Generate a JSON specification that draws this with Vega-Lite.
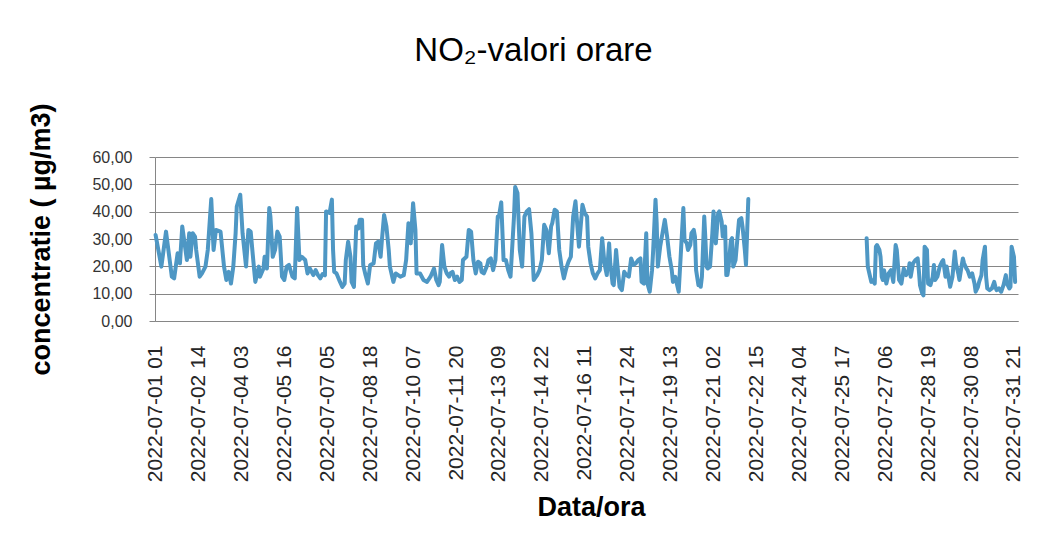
{
"$schema": "https://vega.github.io/schema/vega-lite/v6.json",
"width": 863, "height": 164,
"autosize": {"type": "none"},
"padding": {"left": 155, "top": 157, "right": 41, "bottom": 218},
"background": "white",
"title": {"text": "NO₂-valori orare", "font": "Liberation Sans", "fontSize": 33, "fontWeight": "normal", "color": "black", "anchor": "middle", "frame": "group", "dx": -53, "offset": 9, "baseline": "alphabetic"},
"data": {"values": [
{"ora":1,"no2":31.5,"tronson":1},{"ora":6,"no2":19.9,"tronson":1},{"ora":10,"no2":32.7,"tronson":1},{"ora":15,"no2":16.2,"tronson":1},{"ora":17,"no2":15.6,"tronson":1},{"ora":20,"no2":24.8,"tronson":1},{"ora":22,"no2":21.1,"tronson":1},{"ora":24,"no2":34.6,"tronson":1},{"ora":28,"no2":22.3,"tronson":1},{"ora":30,"no2":32.1,"tronson":1},{"ora":31,"no2":23.5,"tronson":1},{"ora":33,"no2":32.1,"tronson":1},{"ora":35,"no2":30.9,"tronson":1},{"ora":36,"no2":26.0,"tronson":1},{"ora":39,"no2":16.2,"tronson":1},{"ora":41,"no2":17.4,"tronson":1},{"ora":44,"no2":19.9,"tronson":1},{"ora":46,"no2":26.0,"tronson":1},{"ora":47,"no2":32.1,"tronson":1},{"ora":49,"no2":44.6,"tronson":1},{"ora":51,"no2":26.0,"tronson":1},{"ora":53,"no2":33.3,"tronson":1},{"ora":57,"no2":32.7,"tronson":1},{"ora":60,"no2":19.9,"tronson":1},{"ora":62,"no2":15.0,"tronson":1},{"ora":64,"no2":18.0,"tronson":1},{"ora":66,"no2":13.7,"tronson":1},{"ora":68,"no2":19.9,"tronson":1},{"ora":70,"no2":32.1,"tronson":1},{"ora":71,"no2":41.9,"tronson":1},{"ora":74,"no2":46.2,"tronson":1},{"ora":76,"no2":32.1,"tronson":1},{"ora":79,"no2":19.9,"tronson":1},{"ora":81,"no2":33.3,"tronson":1},{"ora":83,"no2":32.7,"tronson":1},{"ora":86,"no2":18.6,"tronson":1},{"ora":87,"no2":14.3,"tronson":1},{"ora":90,"no2":19.9,"tronson":1},{"ora":91,"no2":16.2,"tronson":1},{"ora":94,"no2":19.2,"tronson":1},{"ora":95,"no2":23.5,"tronson":1},{"ora":97,"no2":19.2,"tronson":1},{"ora":99,"no2":41.3,"tronson":1},{"ora":100,"no2":38.2,"tronson":1},{"ora":102,"no2":23.5,"tronson":1},{"ora":104,"no2":26.0,"tronson":1},{"ora":106,"no2":32.7,"tronson":1},{"ora":108,"no2":30.9,"tronson":1},{"ora":110,"no2":16.2,"tronson":1},{"ora":112,"no2":15.0,"tronson":1},{"ora":114,"no2":19.9,"tronson":1},{"ora":116,"no2":20.5,"tronson":1},{"ora":119,"no2":16.2,"tronson":1},{"ora":121,"no2":15.6,"tronson":1},{"ora":123,"no2":41.3,"tronson":1},{"ora":125,"no2":22.3,"tronson":1},{"ora":127,"no2":23.5,"tronson":1},{"ora":130,"no2":22.3,"tronson":1},{"ora":132,"no2":17.4,"tronson":1},{"ora":134,"no2":19.2,"tronson":1},{"ora":137,"no2":16.8,"tronson":1},{"ora":139,"no2":18.6,"tronson":1},{"ora":141,"no2":16.8,"tronson":1},{"ora":143,"no2":15.6,"tronson":1},{"ora":145,"no2":17.2,"tronson":1},{"ora":147,"no2":16.7,"tronson":1},{"ora":148,"no2":40.1,"tronson":1},{"ora":151,"no2":39.5,"tronson":1},{"ora":153,"no2":44.4,"tronson":1},{"ora":154,"no2":26.0,"tronson":1},{"ora":155,"no2":18.0,"tronson":1},{"ora":157,"no2":17.4,"tronson":1},{"ora":160,"no2":14.3,"tronson":1},{"ora":162,"no2":12.5,"tronson":1},{"ora":164,"no2":13.7,"tronson":1},{"ora":165,"no2":22.3,"tronson":1},{"ora":167,"no2":29.0,"tronson":1},{"ora":169,"no2":23.5,"tronson":1},{"ora":170,"no2":14.3,"tronson":1},{"ora":172,"no2":12.5,"tronson":1},{"ora":174,"no2":34.6,"tronson":1},{"ora":176,"no2":33.9,"tronson":1},{"ora":177,"no2":37.0,"tronson":1},{"ora":179,"no2":37.0,"tronson":1},{"ora":180,"no2":20.5,"tronson":1},{"ora":182,"no2":16.8,"tronson":1},{"ora":184,"no2":13.7,"tronson":1},{"ora":186,"no2":20.5,"tronson":1},{"ora":189,"no2":21.1,"tronson":1},{"ora":191,"no2":28.4,"tronson":1},{"ora":193,"no2":29.0,"tronson":1},{"ora":195,"no2":23.5,"tronson":1},{"ora":196,"no2":29.0,"tronson":1},{"ora":198,"no2":38.8,"tronson":1},{"ora":200,"no2":34.6,"tronson":1},{"ora":202,"no2":26.0,"tronson":1},{"ora":203,"no2":19.9,"tronson":1},{"ora":206,"no2":14.3,"tronson":1},{"ora":208,"no2":17.4,"tronson":1},{"ora":212,"no2":16.2,"tronson":1},{"ora":215,"no2":16.8,"tronson":1},{"ora":217,"no2":22.3,"tronson":1},{"ora":219,"no2":35.8,"tronson":1},{"ora":221,"no2":28.4,"tronson":1},{"ora":223,"no2":43.1,"tronson":1},{"ora":225,"no2":33.3,"tronson":1},{"ora":226,"no2":17.4,"tronson":1},{"ora":229,"no2":17.4,"tronson":1},{"ora":232,"no2":15.0,"tronson":1},{"ora":235,"no2":14.3,"tronson":1},{"ora":238,"no2":16.2,"tronson":1},{"ora":241,"no2":19.2,"tronson":1},{"ora":243,"no2":15.0,"tronson":1},{"ora":245,"no2":13.1,"tronson":1},{"ora":246,"no2":14.3,"tronson":1},{"ora":248,"no2":27.8,"tronson":1},{"ora":250,"no2":19.9,"tronson":1},{"ora":252,"no2":17.4,"tronson":1},{"ora":254,"no2":16.2,"tronson":1},{"ora":255,"no2":17.4,"tronson":1},{"ora":257,"no2":18.0,"tronson":1},{"ora":259,"no2":15.0,"tronson":1},{"ora":261,"no2":16.2,"tronson":1},{"ora":263,"no2":14.3,"tronson":1},{"ora":265,"no2":15.0,"tronson":1},{"ora":266,"no2":22.3,"tronson":1},{"ora":269,"no2":23.5,"tronson":1},{"ora":271,"no2":33.3,"tronson":1},{"ora":273,"no2":32.7,"tronson":1},{"ora":275,"no2":22.3,"tronson":1},{"ora":277,"no2":17.4,"tronson":1},{"ora":279,"no2":21.7,"tronson":1},{"ora":281,"no2":21.1,"tronson":1},{"ora":282,"no2":18.0,"tronson":1},{"ora":284,"no2":17.4,"tronson":1},{"ora":287,"no2":20.5,"tronson":1},{"ora":288,"no2":22.3,"tronson":1},{"ora":290,"no2":22.9,"tronson":1},{"ora":292,"no2":18.6,"tronson":1},{"ora":294,"no2":22.3,"tronson":1},{"ora":296,"no2":38.2,"tronson":1},{"ora":297,"no2":38.2,"tronson":1},{"ora":299,"no2":43.4,"tronson":1},{"ora":301,"no2":22.3,"tronson":1},{"ora":303,"no2":22.3,"tronson":1},{"ora":305,"no2":18.6,"tronson":1},{"ora":307,"no2":16.2,"tronson":1},{"ora":310,"no2":38.2,"tronson":1},{"ora":311,"no2":49.0,"tronson":1},{"ora":313,"no2":46.8,"tronson":1},{"ora":315,"no2":26.0,"tronson":1},{"ora":317,"no2":19.9,"tronson":1},{"ora":319,"no2":38.2,"tronson":1},{"ora":321,"no2":40.1,"tronson":1},{"ora":323,"no2":40.9,"tronson":1},{"ora":325,"no2":32.1,"tronson":1},{"ora":327,"no2":15.0,"tronson":1},{"ora":328,"no2":15.6,"tronson":1},{"ora":330,"no2":16.8,"tronson":1},{"ora":332,"no2":18.6,"tronson":1},{"ora":334,"no2":22.3,"tronson":1},{"ora":336,"no2":35.2,"tronson":1},{"ora":338,"no2":33.3,"tronson":1},{"ora":340,"no2":24.8,"tronson":1},{"ora":342,"no2":34.6,"tronson":1},{"ora":343,"no2":35.8,"tronson":1},{"ora":345,"no2":40.7,"tronson":1},{"ora":347,"no2":40.1,"tronson":1},{"ora":349,"no2":26.0,"tronson":1},{"ora":351,"no2":19.9,"tronson":1},{"ora":353,"no2":15.6,"tronson":1},{"ora":355,"no2":19.2,"tronson":1},{"ora":357,"no2":21.7,"tronson":1},{"ora":359,"no2":23.5,"tronson":1},{"ora":361,"no2":38.2,"tronson":1},{"ora":363,"no2":43.8,"tronson":1},{"ora":364,"no2":38.2,"tronson":1},{"ora":366,"no2":27.2,"tronson":1},{"ora":367,"no2":32.1,"tronson":1},{"ora":369,"no2":42.5,"tronson":1},{"ora":371,"no2":39.5,"tronson":1},{"ora":373,"no2":38.2,"tronson":1},{"ora":374,"no2":27.2,"tronson":1},{"ora":376,"no2":21.1,"tronson":1},{"ora":378,"no2":17.4,"tronson":1},{"ora":380,"no2":15.6,"tronson":1},{"ora":382,"no2":17.4,"tronson":1},{"ora":384,"no2":18.6,"tronson":1},{"ora":386,"no2":30.3,"tronson":1},{"ora":388,"no2":21.1,"tronson":1},{"ora":390,"no2":16.8,"tronson":1},{"ora":392,"no2":28.4,"tronson":1},{"ora":393,"no2":21.1,"tronson":1},{"ora":395,"no2":13.7,"tronson":1},{"ora":396,"no2":13.1,"tronson":1},{"ora":398,"no2":26.0,"tronson":1},{"ora":399,"no2":21.1,"tronson":1},{"ora":401,"no2":12.5,"tronson":1},{"ora":403,"no2":11.3,"tronson":1},{"ora":405,"no2":18.0,"tronson":1},{"ora":407,"no2":16.8,"tronson":1},{"ora":409,"no2":16.2,"tronson":1},{"ora":411,"no2":22.9,"tronson":1},{"ora":413,"no2":20.5,"tronson":1},{"ora":415,"no2":21.1,"tronson":1},{"ora":417,"no2":22.3,"tronson":1},{"ora":419,"no2":22.9,"tronson":1},{"ora":420,"no2":14.3,"tronson":1},{"ora":422,"no2":13.7,"tronson":1},{"ora":424,"no2":32.1,"tronson":1},{"ora":425,"no2":13.7,"tronson":1},{"ora":427,"no2":10.7,"tronson":1},{"ora":429,"no2":18.6,"tronson":1},{"ora":430,"no2":26.0,"tronson":1},{"ora":432,"no2":44.4,"tronson":1},{"ora":433,"no2":35.8,"tronson":1},{"ora":434,"no2":19.9,"tronson":1},{"ora":436,"no2":27.2,"tronson":1},{"ora":438,"no2":32.1,"tronson":1},{"ora":440,"no2":37.0,"tronson":1},{"ora":441,"no2":34.0,"tronson":1},{"ora":442,"no2":30.9,"tronson":1},{"ora":444,"no2":23.5,"tronson":1},{"ora":446,"no2":18.6,"tronson":1},{"ora":447,"no2":14.3,"tronson":1},{"ora":449,"no2":16.2,"tronson":1},{"ora":451,"no2":12.5,"tronson":1},{"ora":452,"no2":10.7,"tronson":1},{"ora":454,"no2":26.0,"tronson":1},{"ora":456,"no2":41.3,"tronson":1},{"ora":457,"no2":29.7,"tronson":1},{"ora":459,"no2":28.4,"tronson":1},{"ora":460,"no2":26.0,"tronson":1},{"ora":462,"no2":27.8,"tronson":1},{"ora":463,"no2":32.1,"tronson":1},{"ora":465,"no2":33.3,"tronson":1},{"ora":466,"no2":30.9,"tronson":1},{"ora":467,"no2":18.6,"tronson":1},{"ora":469,"no2":13.1,"tronson":1},{"ora":470,"no2":14.5,"tronson":1},{"ora":471,"no2":12.5,"tronson":1},{"ora":472,"no2":16.2,"tronson":1},{"ora":474,"no2":38.2,"tronson":1},{"ora":475,"no2":30.0,"tronson":1},{"ora":476,"no2":19.9,"tronson":1},{"ora":477,"no2":19.2,"tronson":1},{"ora":479,"no2":19.9,"tronson":1},{"ora":481,"no2":32.1,"tronson":1},{"ora":482,"no2":40.1,"tronson":1},{"ora":484,"no2":28.4,"tronson":1},{"ora":486,"no2":39.5,"tronson":1},{"ora":487,"no2":40.1,"tronson":1},{"ora":489,"no2":36.4,"tronson":1},{"ora":490,"no2":30.9,"tronson":1},{"ora":492,"no2":34.6,"tronson":1},{"ora":493,"no2":16.8,"tronson":1},{"ora":494,"no2":16.8,"tronson":1},{"ora":495,"no2":19.9,"tronson":1},{"ora":497,"no2":29.7,"tronson":1},{"ora":498,"no2":30.3,"tronson":1},{"ora":499,"no2":19.9,"tronson":1},{"ora":501,"no2":22.3,"tronson":1},{"ora":502,"no2":27.2,"tronson":1},{"ora":504,"no2":37.0,"tronson":1},{"ora":506,"no2":37.6,"tronson":1},{"ora":507,"no2":34.6,"tronson":1},{"ora":509,"no2":26.0,"tronson":1},{"ora":510,"no2":20.5,"tronson":1},{"ora":512,"no2":44.6,"tronson":1},
{"ora":614,"no2":30.3,"tronson":2},{"ora":615,"no2":19.9,"tronson":2},{"ora":617,"no2":16.2,"tronson":2},{"ora":618,"no2":14.3,"tronson":2},{"ora":619,"no2":15.0,"tronson":2},{"ora":621,"no2":13.7,"tronson":2},{"ora":622,"no2":27.2,"tronson":2},{"ora":623,"no2":27.8,"tronson":2},{"ora":625,"no2":26.0,"tronson":2},{"ora":626,"no2":23.5,"tronson":2},{"ora":627,"no2":16.2,"tronson":2},{"ora":628,"no2":15.0,"tronson":2},{"ora":629,"no2":18.6,"tronson":2},{"ora":631,"no2":13.7,"tronson":2},{"ora":633,"no2":17.4,"tronson":2},{"ora":635,"no2":18.6,"tronson":2},{"ora":637,"no2":14.3,"tronson":2},{"ora":639,"no2":27.8,"tronson":2},{"ora":640,"no2":26.0,"tronson":2},{"ora":642,"no2":15.0,"tronson":2},{"ora":644,"no2":13.7,"tronson":2},{"ora":646,"no2":19.2,"tronson":2},{"ora":648,"no2":16.8,"tronson":2},{"ora":650,"no2":18.0,"tronson":2},{"ora":651,"no2":21.1,"tronson":2},{"ora":652,"no2":16.2,"tronson":2},{"ora":654,"no2":21.1,"tronson":2},{"ora":656,"no2":22.3,"tronson":2},{"ora":658,"no2":22.9,"tronson":2},{"ora":659,"no2":18.6,"tronson":2},{"ora":660,"no2":13.1,"tronson":2},{"ora":662,"no2":10.0,"tronson":2},{"ora":663,"no2":9.4,"tronson":2},{"ora":664,"no2":27.2,"tronson":2},{"ora":666,"no2":26.0,"tronson":2},{"ora":667,"no2":13.7,"tronson":2},{"ora":669,"no2":13.1,"tronson":2},{"ora":671,"no2":16.2,"tronson":2},{"ora":672,"no2":20.5,"tronson":2},{"ora":673,"no2":15.0,"tronson":2},{"ora":675,"no2":16.2,"tronson":2},{"ora":677,"no2":19.9,"tronson":2},{"ora":679,"no2":21.7,"tronson":2},{"ora":680,"no2":22.3,"tronson":2},{"ora":682,"no2":16.2,"tronson":2},{"ora":683,"no2":19.9,"tronson":2},{"ora":685,"no2":15.0,"tronson":2},{"ora":686,"no2":12.5,"tronson":2},{"ora":688,"no2":16.2,"tronson":2},{"ora":690,"no2":25.4,"tronson":2},{"ora":691,"no2":21.1,"tronson":2},{"ora":693,"no2":17.4,"tronson":2},{"ora":694,"no2":15.0,"tronson":2},{"ora":696,"no2":20.5,"tronson":2},{"ora":697,"no2":22.9,"tronson":2},{"ora":698,"no2":21.1,"tronson":2},{"ora":700,"no2":19.2,"tronson":2},{"ora":701,"no2":18.6,"tronson":2},{"ora":703,"no2":16.2,"tronson":2},{"ora":705,"no2":17.4,"tronson":2},{"ora":707,"no2":13.7,"tronson":2},{"ora":708,"no2":10.7,"tronson":2},{"ora":710,"no2":12.5,"tronson":2},{"ora":711,"no2":14.3,"tronson":2},{"ora":713,"no2":16.8,"tronson":2},{"ora":714,"no2":22.3,"tronson":2},{"ora":716,"no2":27.2,"tronson":2},{"ora":717,"no2":16.2,"tronson":2},{"ora":718,"no2":11.9,"tronson":2},{"ora":720,"no2":11.3,"tronson":2},{"ora":722,"no2":11.9,"tronson":2},{"ora":724,"no2":14.3,"tronson":2},{"ora":725,"no2":12.5,"tronson":2},{"ora":726,"no2":11.3,"tronson":2},{"ora":728,"no2":11.9,"tronson":2},{"ora":730,"no2":10.7,"tronson":2},{"ora":732,"no2":13.1,"tronson":2},{"ora":734,"no2":16.8,"tronson":2},{"ora":735,"no2":13.7,"tronson":2},{"ora":737,"no2":11.9,"tronson":2},{"ora":738,"no2":12.5,"tronson":2},{"ora":739,"no2":27.2,"tronson":2},{"ora":741,"no2":23.5,"tronson":2},{"ora":742,"no2":14.3,"tronson":2}
]},
"mark": {"type": "line", "color": "#4e97c4", "strokeWidth": 4, "strokeJoin": "round", "strokeCap": "round"},
"encoding": {
  "x": {"field": "ora", "type": "quantitative",
    "scale": {"domain": [0.5, 744.5], "nice": false, "zero": false},
    "axis": {"values": [1,38,75,112,149,186,223,260,297,334,371,408,445,482,519,556,593,630,667,704,741],
      "labelExpr": "'2022-07-' + (floor((datum.value-1)/24)+1 < 10 ? '0' : '') + (floor((datum.value-1)/24)+1) + ' ' + ((datum.value-1)%24+1 < 10 ? '0' : '') + ((datum.value-1)%24+1)",
      "labelAngle": 270, "labelAlign": "right", "labelBaseline": "middle",
      "labelFont": "Liberation Sans", "labelFontSize": 21, "labelColor": "#262626",
      "labelPadding": 24, "labelOverlap": false, "labelBound": false, "labelFlush": false,
      "ticks": false, "grid": false, "domain": true, "domainColor": "#868686", "domainWidth": 1,
      "title": "Data/ora", "titleFont": "Liberation Sans", "titleFontSize": 27, "titleFontWeight": "bold", "titleColor": "black",
      "titleX": 436, "titleY": 194, "titleBaseline": "alphabetic", "titleAlign": "center"}},
  "y": {"field": "no2", "type": "quantitative",
    "scale": {"domain": [0, 60], "nice": false},
    "axis": {"values": [0,10,20,30,40,50,60],
      "labelExpr": "replace(format(datum.value, '.2f'), '.', ',')",
      "labelFont": "Liberation Sans", "labelFontSize": 16, "labelColor": "#333333", "labelPadding": 17,
      "tickSize": 6, "tickColor": "#868686", "domainColor": "#868686",
      "grid": true, "gridColor": "#868686", "gridWidth": 1,
      "title": "concentratie ( µg/m3)", "titleFont": "Liberation Sans", "titleFontSize": 27, "titleFontWeight": "bold", "titleColor": "black",
      "titleX": -114, "titleY": 82, "titleAngle": 270, "titleAlign": "center", "titleBaseline": "middle"}},
  "detail": {"field": "tronson", "type": "nominal"}
},
"config": {"view": {"stroke": null}, "font": "Liberation Sans"}
}
